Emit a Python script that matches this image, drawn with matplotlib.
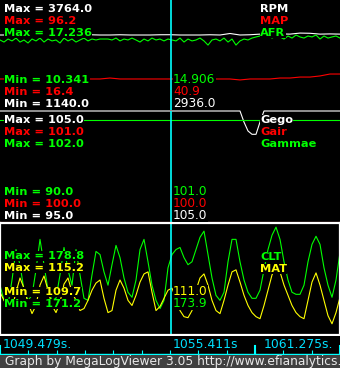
import numpy as np
import matplotlib
matplotlib.use("Agg")
import matplotlib.pyplot as plt

W, H = 340, 368

# ── time window (s) ─────────────────────────────────────────────────────────────
T_START = 1049.479
T_CURSOR = 1055.411
T_END = 1061.275

# ── panel 1 ─────────────────────────────────────────────────────────────────────
RPM = [2929, 2929, 2935, 2929, 2929, 2935, 2929, 2929, 2929, 2935, 2929, 2929,
       2935, 2929, 2929, 2929, 2935, 2936, 2929, 2929, 2929, 2935, 2929, 2965,
       2929, 2935, 2950, 2950, 2955, 2950, 2975, 2970, 2950, 2955, 2950]
MAP = [38.9, 38.9, 38.9, 38.9, 38.9, 38.9, 38.9, 38.9, 38.9, 38.9, 38.9, 39.6,
       38.9, 38.9, 38.9, 38.9, 38.9, 38.9, 38.9, 38.9, 38.9, 38.9, 38.9, 38.9,
       38.2, 38.9, 38.9, 38.9, 39.6, 39.6, 40.3, 40.3, 41.1, 42.5, 42.5]
AFR = [14.73, 14.60, 14.79, 14.67, 14.85, 14.60, 14.73, 14.54, 14.79, 14.67,
       14.85, 14.60, 14.79, 14.67, 14.73, 14.54, 14.85, 14.67, 14.79, 14.60,
       14.73, 14.85, 14.67, 14.79, 14.73,
       14.79, 14.79, 14.79, 14.73, 14.85, 14.67, 14.79, 14.73, 14.85, 14.73,
       14.60, 14.79, 14.67, 14.85, 14.73, 14.79, 14.67, 14.79,
       14.73, 14.67, 14.85, 14.60, 14.79, 14.67, 14.73, 14.85, 14.67, 14.41,
       14.73, 14.79, 14.67, 14.85, 14.60, 14.79, 14.41, 14.67, 14.79, 14.73,
       14.85,
       14.92, 14.98, 14.92, 15.04, 14.85, 14.98, 14.92, 14.79, 14.98, 14.85,
       15.04, 14.92, 14.85, 14.98, 14.92, 15.04, 14.79, 14.98, 14.85, 14.92,
       14.98, 14.85]

# ── panel 2 ─────────────────────────────────────────────────────────────────────
GEGO = [105.0, 105.0, 105.0, 105.0, 105.0, 105.0, 105.0, 105.0, 105.0, 105.0,
        105.0, 105.0, 105.0, 105.0, 105.0, 105.0, 105.0, 105.0, 105.0, 105.0,
        105.0, 105.0, 105.0, 105.0, 105.0, 105.0, 105.0, 105.0, 105.0, 105.0,
        105.0, 105.0, 105.0, 105.0, 105.0, 105.0, 105.0, 105.0, 105.0, 105.0,
        105.0, 105.0, 105.0, 105.0, 105.0, 105.0, 105.0, 105.0, 105.0, 105.0,
        105.0, 105.0, 105.0, 105.0, 105.0, 105.0, 105.0, 105.0, 105.0, 105.0,
        105.0, 104.0, 103.2, 102.9, 102.9, 104.0, 105.0, 105.0, 105.0, 105.0,
        105.0, 105.0, 105.0, 105.0, 105.0, 105.0, 105.0, 105.0, 105.0, 105.0,
        105.0, 105.0, 105.0, 105.0, 105.0, 105.0]
GAIR = [100.0, 100.0]
GAMMAE = [101.0, 101.0]

# ── panel 3 ─────────────────────────────────────────────────────────────────────
CLT = [174.58, 173.55, 173.20, 174.93, 177.00, 175.97, 174.24, 173.55, 173.89, 175.62,
       177.69, 175.97, 174.24, 173.55, 173.69, 175.28, 177.14, 175.62, 174.58, 177.00,
       175.28, 173.69, 173.55, 175.28, 176.87, 176.66, 175.48, 174.58, 175.97, 177.28,
       176.45, 175.07, 174.10, 173.76, 174.93, 177.00, 177.69, 176.17, 174.58, 173.55,
       172.99, 173.55, 175.76, 176.66, 177.00, 177.14, 176.45, 175.97, 176.17, 177.00,
       177.83, 178.25, 176.66, 175.07, 173.89, 173.55, 174.10, 176.17, 177.69, 177.69,
       176.17, 174.93, 174.10, 173.69, 173.69, 174.24, 175.62, 177.00, 177.97, 178.52,
       177.69, 176.17, 174.93, 174.10, 173.96, 173.96, 174.58, 176.17, 177.35, 177.90,
       177.35, 175.76, 174.58, 173.76, 174.93, 176.80]
MAT = [111.80, 111.40, 111.00, 111.00, 111.80, 112.50, 112.00, 111.30, 110.75, 111.15,
       112.15, 112.60, 111.90, 111.15, 110.80, 111.30, 112.20, 112.50, 111.80, 111.40,
       110.90, 111.00, 111.40, 111.90, 112.25, 112.40, 111.50, 110.80, 110.90, 111.90,
       112.40, 112.00, 111.40, 111.15, 111.65, 112.30, 112.70, 112.80, 111.80, 110.90,
       111.10, 111.50, 111.90, 112.00, 111.50, 110.90, 110.60, 110.55, 110.90, 111.90,
       112.50, 112.70, 112.15, 111.40, 110.90, 110.75, 111.40, 112.15, 112.80, 112.90,
       112.30, 111.65, 111.15, 110.80, 110.60, 110.50, 111.15, 111.90, 112.65, 113.05,
       112.80, 112.15, 111.65, 111.15, 110.80, 110.60, 110.50, 111.40, 112.30, 112.75,
       112.15, 111.40, 110.65, 110.25, 110.80, 111.55]

# channel: (name, values, min, max, cursor value, fmt, colour)
PANELS = [
    [("RPM", RPM, 1140.0, 3764.0, 2936.0, "{:.1f}", "#ffffff"),
     ("MAP", MAP, 16.4, 96.2, 40.9, "{:.1f}", "#ff0000"),
     ("AFR", AFR, 10.341, 17.236, 14.906, "{:.3f}", "#00ff00")],
    [("Gego", GEGO, 95.0, 105.0, 105.0, "{:.1f}", "#ffffff"),
     ("Gair", GAIR, 100.0, 101.0, 100.0, "{:.1f}", "#ff0000"),
     ("Gammae", GAMMAE, 90.0, 102.0, 101.0, "{:.1f}", "#00ff00")],
    [("CLT", CLT, 171.2, 178.8, 173.9, "{:.1f}", "#00ff00"),
     ("MAT", MAT, 109.7, 115.2, 111.0, "{:.1f}", "#ffff00")],
]
# pixel extents (top, bottom) of each panel
PANEL_PX = [(0, 110), (111, 222), (223, 335)]
# tick marks along the time strip; the long ones get a taller mark
N_TICKS = 13
LONG_TICKS = [0, 9, 12]

CURSOR_C = "#00ffff"
AXIS_C = "#00e0ff"
FOOT_BG = "#404040"
FOOT_FG = "#e8e8e8"


def px_axes(fig, top, bottom):
    ax = fig.add_axes([0, 1 - bottom / H, 1, (bottom - top) / H])
    ax.set_facecolor("black")
    ax.set_xlim(T_START, T_END)
    ax.set_xticks([])
    ax.set_yticks([])
    for s in ax.spines.values():
        s.set_visible(False)
    return ax


def txt(fig, x, y, s, color, size=8.2, bold=True, bg=True):
    fig.text(x / W, 1 - y / H, s, color=color, fontsize=size,
             fontweight="bold" if bold else "normal", va="baseline", ha="left",
             family="DejaVu Sans",
             bbox=dict(facecolor="black", edgecolor="none", pad=0.3) if bg else None)


fig = plt.figure(figsize=(W / 100, H / 100), dpi=100, facecolor="black")

for p, (chans, (top, bot)) in enumerate(zip(PANELS, PANEL_PX)):
    host = px_axes(fig, top, bot)
    for name, vals, vmin, vmax, cur, fmt, color in chans:
        ax = host.twinx()
        ax.set_ylim(vmin, vmax)
        ax.set_yticks([])
        for s in ax.spines.values():
            s.set_visible(False)
        t = np.linspace(T_START, T_END, len(vals))
        ax.plot(t, vals, color=color, lw=0.8, clip_on=(name != "Gego"))
    ax.axvline(T_CURSOR, color=CURSOR_C, lw=1.2, zorder=5)

    n = len(chans)
    if p < 2:
        max_y = [top + 12 + 12 * i for i in range(n)]
        min_y = [bot - 3 - 12 * (n - 1 - i) for i in range(n)]
    else:
        max_y = [259, 271]
        min_y = [295, 307]
    for (name, vals, vmin, vmax, cur, fmt, color), y in zip(chans, max_y):
        txt(fig, 4, y, "Max = " + fmt.format(vmax), color)
        txt(fig, 260, y + (1 if p == 2 else 0), name, color)
    for (name, vals, vmin, vmax, cur, fmt, color), y in zip(chans[::-1], min_y):
        txt(fig, 4, y, "Min = " + fmt.format(vmin), color)
        txt(fig, 173, y, fmt.format(cur), color, size=8.7, bold=False)

# white frame round the active (bottom) panel
frame = fig.add_axes([0, 1 - 335 / H, 1, 112 / H])
frame.patch.set_visible(False)
frame.set_xticks([])
frame.set_yticks([])
for s in frame.spines.values():
    s.set_color("white")
    s.set_linewidth(1.6)

# ── time strip ──────────────────────────────────────────────────────────────────
strip = px_axes(fig, 336, 354)
strip.spines["bottom"].set_visible(True)
strip.spines["bottom"].set_color(CURSOR_C)
strip.spines["bottom"].set_linewidth(1.0)
ticks = np.linspace(T_START, T_END, N_TICKS)
strip.set_xticks(ticks)
strip.tick_params(axis="x", direction="in", length=3, width=0.8, color=CURSOR_C,
                  labelbottom=False)
strip.set_ylim(0, 1)
for i in LONG_TICKS:
    strip.axvline(ticks[i], ymin=0, ymax=0.45, color=CURSOR_C, lw=1.5)
txt(fig, 3, 348, f"{T_START:.3f}s.", AXIS_C, size=8.9, bold=False, bg=False)
txt(fig, 173, 348, f"{T_CURSOR:.3f}s", AXIS_C, size=8.9, bold=False, bg=False)
txt(fig, 264, 348, f"{T_END:.3f}s.", AXIS_C, size=8.9, bold=False, bg=False)

# ── footer ──────────────────────────────────────────────────────────────────────
foot = px_axes(fig, 355, 368)
foot.set_facecolor(FOOT_BG)
foot.text(5 / W, 0.2, "Graph by MegaLogViewer 3.05 http://www.efianalytics.com",
          transform=foot.transAxes, color=FOOT_FG, fontsize=8.8, va="baseline",
          family="DejaVu Sans", clip_on=True)

fig.savefig("out.png", dpi=100, facecolor="black")
